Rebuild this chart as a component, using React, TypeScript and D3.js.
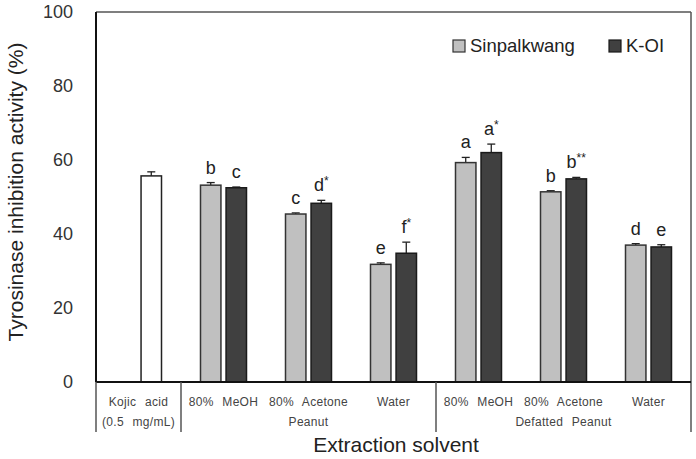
import React from "react";
import * as d3 from "d3";

// Tyrosinase inhibition of peanut extracts, by solvent and cultivar
const solvents = ["Kojic acid", "80% MeOH", "80% Acetone", "Water", "80% MeOH", "80% Acetone", "Water"];
const categoryIds = ["kojic", "p-meoh", "p-acetone", "p-water", "d-meoh", "d-acetone", "d-water"];

const kojicValue = 55.7;
const kojicError = 1.1;

const sinpalkwang = [null, 53.2, 45.4, 31.8, 59.3, 51.4, 37.0];
const sinpalkwangError = [null, 0.7, 0.3, 0.4, 1.4, 0.3, 0.4];
const sinpalkwangLetters = ["", "b", "c", "e", "a", "b", "d"];

const kOi = [null, 52.5, 48.3, 34.8, 62.0, 54.9, 36.5];
const kOiError = [null, 0.2, 0.8, 3.0, 2.3, 0.4, 0.6];
const kOiLetters = ["", "c", "d", "f", "a", "b", "e"];
const kOiStars = ["", "", "*", "*", "*", "**", ""];

const yTicks = [0, 20, 40, 60, 80, 100];

// sections under the axis: [first index, last index, label lines]
const sections: [number, number, string[]][] = [
  [0, 0, ["Kojic acid", "(0.5 mg/mL)"]],
  [1, 3, ["", "Peanut"]],
  [4, 6, ["", "Defatted Peanut"]],
];

const W = 696;
const H = 459;
const left = 96;
const right = 691;
const top = 12;
const bottom = 382;

const FONT = "Arial, 'Liberation Sans', Helvetica, sans-serif";
const LIGHT = "#c0c0c0";
const DARK = "#404040";
const smallText = { wordSpacing: "5px", letterSpacing: "0.3px" };

export default function App() {
  const x = d3.scaleBand<string>().domain(categoryIds).range([left, right]).padding(0);
  const xSub = d3.scaleBand<string>().domain(["S", "K"]).range([-23, 23]).paddingInner(0.2);
  const y = d3.scaleLinear().domain([0, 100]).range([bottom, top]);
  const bw = xSub.bandwidth();

  const bar = (key: string, bx: number, v: number, err: number, fill: string, stroke: string) => {
    const mid = bx + bw / 2;
    return (
      <g key={key}>
        <line x1={mid} x2={mid} y1={y(v)} y2={y(v + err)} stroke="#222" strokeWidth={1.3} />
        <line x1={mid - 4} x2={mid + 4} y1={y(v + err)} y2={y(v + err)} stroke="#222" strokeWidth={1.3} />
        <rect x={bx} y={y(v)} width={bw} height={y(0) - y(v)} fill={fill} stroke={stroke} strokeWidth={1.5} />
      </g>
    );
  };

  const letter = (key: string, bx: number, v: number, err: number, txt: string, star = "") =>
    txt ? (
      <text key={key} x={bx + bw / 2} y={y(v + err) - 9} textAnchor="middle" fontSize={18} fill="#222" fontFamily={FONT}>
        {txt}
        {star && (
          <tspan fontSize={12} dy={-6}>
            {star}
          </tspan>
        )}
      </text>
    ) : null;

  return (
    <svg width={W} height={H} style={{ position: "absolute", left: 0, top: 0, background: "#fff" }}>
      {/* frame */}
      <line x1={left} x2={right} y1={top} y2={top} stroke="#555" strokeWidth={1.5} />
      <line x1={right} x2={right} y1={top} y2={432} stroke="#555" strokeWidth={1.5} />

      {/* bars */}
      {categoryIds.map((id, i) => {
        const cx = (x(id) as number) + x.bandwidth() / 2;
        const sx = cx + (xSub("S") as number);
        const kx = cx + (xSub("K") as number);
        if (i === 0) {
          return bar(id, kx, kojicValue, kojicError, "#fff", "#222");
        }
        return (
          <g key={id}>
            {bar(id + "s", sx, sinpalkwang[i] as number, sinpalkwangError[i] as number, LIGHT, "#333")}
            {bar(id + "k", kx, kOi[i] as number, kOiError[i] as number, DARK, "#1a1a1a")}
            {letter(id + "ls", sx, sinpalkwang[i] as number, sinpalkwangError[i] as number, sinpalkwangLetters[i])}
            {letter(id + "lk", kx, kOi[i] as number, kOiError[i] as number, kOiLetters[i], kOiStars[i])}
          </g>
        );
      })}

      {/* axes */}
      <line x1={left} x2={left} y1={top} y2={bottom} stroke="#111" strokeWidth={2} />
      <line x1={left} x2={right} y1={bottom} y2={bottom} stroke="#111" strokeWidth={2} />
      {yTicks.map((t) => (
        <text key={t} x={73} y={y(t) + 6} textAnchor="end" fontSize={18} fill="#333" fontFamily={FONT}>
          {t}
        </text>
      ))}

      {/* category labels */}
      {categoryIds.map((id, i) =>
        i === 0 ? null : (
          <text
            key={id}
            x={(x(id) as number) + x.bandwidth() / 2}
            y={406}
            textAnchor="middle"
            fontSize={12}
            fill="#444"
            fontFamily={FONT}
            style={smallText}
          >
            {solvents[i]}
          </text>
        )
      )}
      {sections.map(([a, b, lines], k) => {
        const x0 = x(categoryIds[a]) as number;
        const x1 = (x(categoryIds[b]) as number) + x.bandwidth();
        return (
          <g key={k}>
            <line x1={x0} x2={x0} y1={bottom} y2={432} stroke="#555" strokeWidth={1.5} />
            {lines.map((ln, j) =>
              ln ? (
                <text
                  key={j}
                  x={(x0 + x1) / 2}
                  y={406 + j * 20}
                  textAnchor="middle"
                  fontSize={12}
                  fill="#444"
                  fontFamily={FONT}
                  style={smallText}
                >
                  {ln}
                </text>
              ) : null
            )}
          </g>
        );
      })}

      {/* titles */}
      <text x={396} y={452} textAnchor="middle" fontSize={21} fill="#222" fontFamily={FONT}>
        Extraction solvent
      </text>
      <text
        transform={`translate(23,${(top + bottom) / 2 - 5}) rotate(-90)`}
        textAnchor="middle"
        fontSize={21}
        fill="#222"
        fontFamily={FONT}
      >
        Tyrosinase inhibition activity (%)
      </text>

      {/* legend */}
      <rect x={453} y={40} width={12} height={12} fill={LIGHT} stroke="#333" strokeWidth={1.2} />
      <text x={470} y={52} fontSize={18.5} fill="#222" fontFamily={FONT}>
        Sinpalkwang
      </text>
      <rect x={609} y={40} width={12} height={12} fill={DARK} stroke="#1a1a1a" strokeWidth={1.2} />
      <text x={626} y={52} fontSize={18.5} fill="#222" fontFamily={FONT}>
        K-OI
      </text>
    </svg>
  );
}
